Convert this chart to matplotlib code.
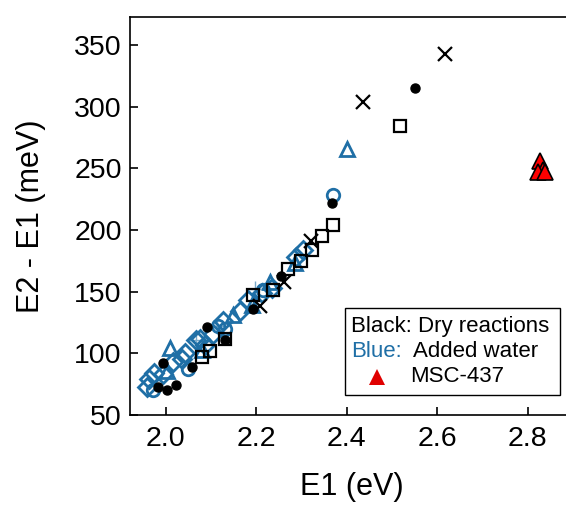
import matplotlib
matplotlib.use('Agg')
import matplotlib.pyplot as plt
from matplotlib.patches import Rectangle

plt.rcParams['font.family'] = ['Liberation Sans', 'DejaVu Sans']

BLUE = '#1f6fa6'

# dry reactions (black)
dry_x_e1 = [2.617, 2.437, 2.322, 2.262, 2.208]
dry_x_de = [343, 304, 191, 158, 138]

dry_dot_e1 = [2.551, 2.367, 2.254, 2.192, 2.131, 2.091, 2.057, 1.995, 1.984, 2.002, 2.022]
dry_dot_de = [315, 222, 163, 136, 111, 121, 89, 92, 73, 70, 74]

dry_sq_e1 = [2.518, 2.37, 2.345, 2.323, 2.30, 2.271, 2.238, 2.194, 2.131, 2.098, 2.08]
dry_sq_de = [284, 204, 195, 184, 175, 168, 151, 147, 112, 102, 97]

# added water (blue)
wet_dia_e1 = [1.958, 1.962, 1.973, 1.995, 2.017, 2.035, 2.043, 2.068, 2.076, 2.087,
              2.105, 2.127, 2.164, 2.183, 2.212, 2.234, 2.289, 2.304]
wet_dia_de = [73, 79, 84, 83, 93, 95, 100, 111, 112, 107,
              116, 126, 134, 143, 149, 153, 178, 184]

wet_tri_e1 = [2.40, 2.01, 2.08, 2.149, 2.19, 2.23, 2.286, 2.002]
wet_tri_de = [266, 104, 103, 131, 139, 158, 173, 86]

wet_circ_e1 = [2.37, 1.972, 2.05, 2.116, 2.216, 2.131]
wet_circ_de = [228, 70, 87, 122, 151, 120]

wet_plus_e1 = [2.197, 2.068, 2.114]
wet_plus_de = [152, 111, 122]

# MSC-437
msc_e1 = [2.828, 2.835, 2.822, 2.838]
msc_de = [256, 249, 247, 247]

fig = plt.figure(figsize=(5.66, 5.07), dpi=100)
ax = fig.add_axes([130 / 566, 92 / 507, 436 / 566, 398 / 507])

ax.plot(wet_plus_e1, wet_plus_de, '+', color=BLUE, ms=12, mew=1.0, alpha=0.6)
ax.plot(wet_dia_e1, wet_dia_de, 'D', mfc='none', mec=BLUE, ms=9.5, mew=2)
ax.plot(wet_tri_e1, wet_tri_de, '^', mfc='none', mec=BLUE, ms=10.5, mew=2)
ax.plot(wet_circ_e1, wet_circ_de, 'o', mfc='none', mec=BLUE, ms=9, mew=2)

ax.plot(dry_sq_e1, dry_sq_de, 's', mfc='none', mec='black', ms=9, mew=1.6)
ax.plot(dry_dot_e1, dry_dot_de, 'o', color='black', ms=6.5)
ax.plot(dry_x_e1, dry_x_de, 'x', color='black', ms=10.5, mew=1.6)

ax.plot(msc_e1, msc_de, '^', mfc='red', mec='black', ms=11.5, mew=1.2)

ax.set_xlim(1.921, 2.885)
ax.set_ylim(50, 372.7)
ax.set_xticks([2.0, 2.2, 2.4, 2.6, 2.8])
ax.set_xticklabels(['2.0', '2.2', '2.4', '2.6', '2.8'])
ax.set_yticks([50, 100, 150, 200, 250, 300, 350])
ax.tick_params(direction='in', length=6, width=1.2, labelsize=20.5)
ax.tick_params(axis='x', pad=8)
ax.tick_params(axis='y', pad=6)
ax.spines['right'].set_visible(False)
for s in ['left', 'bottom', 'top']:
    ax.spines[s].set_linewidth(1.2)

ax.set_xlabel('E1 (eV)', fontsize=22)
ax.set_ylabel('E2 - E1 (meV)', fontsize=22)
ax.xaxis.set_label_coords(0.508, -0.144)
ax.yaxis.set_label_coords(-0.192, 0.5)

# key box
ax.add_patch(Rectangle((0.493, 0.05), 0.493, 0.219, transform=ax.transAxes,
                       fill=False, ec='black', lw=1.0, zorder=5))
ax.text(0.508, 0.222, 'Black: Dry reactions', transform=ax.transAxes,
        fontsize=16, va='center', ha='left')
ax.text(0.508, 0.159, 'Blue:', transform=ax.transAxes, color=BLUE,
        fontsize=16, va='center', ha='left')
ax.text(0.648, 0.159, 'Added water', transform=ax.transAxes,
        fontsize=16, va='center', ha='left')
ax.plot([0.566], [0.096], '^', transform=ax.transAxes, color='#e00000', ms=12, mew=0)
ax.text(0.643, 0.096, 'MSC-437', transform=ax.transAxes,
        fontsize=16, va='center', ha='left')

fig.savefig('out.png', dpi=100)
